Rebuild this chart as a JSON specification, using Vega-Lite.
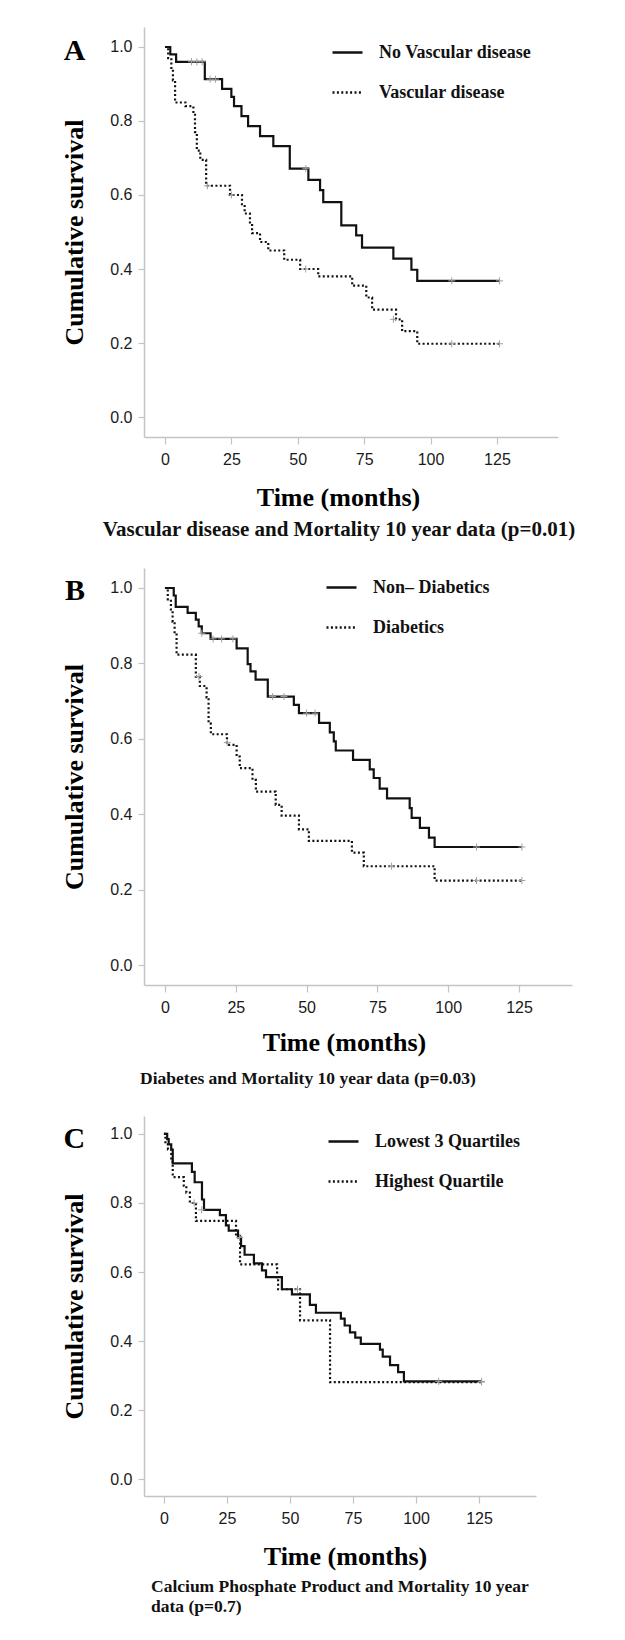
{
  "$schema": "https://vega.github.io/schema/vega-lite/v6.json",
  "background": "white",
  "padding": {"left": 61, "top": 27, "right": 10, "bottom": 10},
  "spacing": 28,
  "config": {
    "view": {"stroke": null},
    "axis": {
      "grid": false,
      "domainColor": "#c4c4c4",
      "domainWidth": 1.5,
      "tickColor": "#c4c4c4",
      "tickWidth": 1.2,
      "labelFont": "Liberation Sans",
      "labelFontSize": 16,
      "labelColor": "#1a1a1a",
      "titleFont": "Liberation Serif",
      "titleFontWeight": "bold",
      "titleFontSize": 26,
      "titleColor": "#000000"
    },
    "legend": {
      "title": null,
      "orient": "none",
      "symbolType": "stroke",
      "symbolSize": 900,
      "symbolStrokeWidth": 2.5,
      "labelFont": "Liberation Serif",
      "labelFontWeight": "bold",
      "labelFontSize": 18,
      "labelColor": "#111111",
      "labelOffset": 15,
      "rowPadding": 14
    },
    "title": {
      "font": "Liberation Serif",
      "fontWeight": "bold",
      "color": "#111111"
    }
  },
  "resolve": {"scale": {"strokeDash": "independent"}, "legend": {"strokeDash": "independent"}},
  "datasets": {
    "curves": [
      {"p": "A", "g": "No Vascular disease", "t": 0, "s": 1.0},
      {"p": "A", "g": "No Vascular disease", "t": 2, "s": 0.98},
      {"p": "A", "g": "No Vascular disease", "t": 4.2, "s": 0.96},
      {"p": "A", "g": "No Vascular disease", "t": 15, "s": 0.913},
      {"p": "A", "g": "No Vascular disease", "t": 21.5, "s": 0.887},
      {"p": "A", "g": "No Vascular disease", "t": 25, "s": 0.865},
      {"p": "A", "g": "No Vascular disease", "t": 26, "s": 0.84},
      {"p": "A", "g": "No Vascular disease", "t": 28.8, "s": 0.813},
      {"p": "A", "g": "No Vascular disease", "t": 31.3, "s": 0.786},
      {"p": "A", "g": "No Vascular disease", "t": 35.8, "s": 0.759},
      {"p": "A", "g": "No Vascular disease", "t": 40.8, "s": 0.732},
      {"p": "A", "g": "No Vascular disease", "t": 47, "s": 0.671},
      {"p": "A", "g": "No Vascular disease", "t": 54, "s": 0.641},
      {"p": "A", "g": "No Vascular disease", "t": 58.4, "s": 0.613},
      {"p": "A", "g": "No Vascular disease", "t": 59.6, "s": 0.581},
      {"p": "A", "g": "No Vascular disease", "t": 66.4, "s": 0.518},
      {"p": "A", "g": "No Vascular disease", "t": 72, "s": 0.491},
      {"p": "A", "g": "No Vascular disease", "t": 74.2, "s": 0.458},
      {"p": "A", "g": "No Vascular disease", "t": 86, "s": 0.428},
      {"p": "A", "g": "No Vascular disease", "t": 92.8, "s": 0.398},
      {"p": "A", "g": "No Vascular disease", "t": 95, "s": 0.368},
      {"p": "A", "g": "No Vascular disease", "t": 126, "s": 0.368},
      {"p": "A", "g": "Vascular disease", "t": 0, "s": 1.0},
      {"p": "A", "g": "Vascular disease", "t": 1.2, "s": 0.97},
      {"p": "A", "g": "Vascular disease", "t": 2.4, "s": 0.94},
      {"p": "A", "g": "Vascular disease", "t": 3.0, "s": 0.91},
      {"p": "A", "g": "Vascular disease", "t": 3.8, "s": 0.85},
      {"p": "A", "g": "Vascular disease", "t": 7.7, "s": 0.84},
      {"p": "A", "g": "Vascular disease", "t": 10.7, "s": 0.82},
      {"p": "A", "g": "Vascular disease", "t": 11.3, "s": 0.77},
      {"p": "A", "g": "Vascular disease", "t": 12.0, "s": 0.72},
      {"p": "A", "g": "Vascular disease", "t": 13.3, "s": 0.695},
      {"p": "A", "g": "Vascular disease", "t": 15.5, "s": 0.625},
      {"p": "A", "g": "Vascular disease", "t": 24.5, "s": 0.6},
      {"p": "A", "g": "Vascular disease", "t": 29, "s": 0.575},
      {"p": "A", "g": "Vascular disease", "t": 30, "s": 0.55},
      {"p": "A", "g": "Vascular disease", "t": 32, "s": 0.522},
      {"p": "A", "g": "Vascular disease", "t": 32.8, "s": 0.497},
      {"p": "A", "g": "Vascular disease", "t": 35.8, "s": 0.473},
      {"p": "A", "g": "Vascular disease", "t": 38.9, "s": 0.45},
      {"p": "A", "g": "Vascular disease", "t": 44.9, "s": 0.425},
      {"p": "A", "g": "Vascular disease", "t": 50.9, "s": 0.4},
      {"p": "A", "g": "Vascular disease", "t": 57.7, "s": 0.38},
      {"p": "A", "g": "Vascular disease", "t": 70.5, "s": 0.355},
      {"p": "A", "g": "Vascular disease", "t": 75.8, "s": 0.323},
      {"p": "A", "g": "Vascular disease", "t": 78, "s": 0.29},
      {"p": "A", "g": "Vascular disease", "t": 87, "s": 0.264},
      {"p": "A", "g": "Vascular disease", "t": 89.3, "s": 0.232},
      {"p": "A", "g": "Vascular disease", "t": 95, "s": 0.198},
      {"p": "A", "g": "Vascular disease", "t": 126, "s": 0.198},

      {"p": "B", "g": "Non– Diabetics", "t": 0, "s": 1.0},
      {"p": "B", "g": "Non– Diabetics", "t": 3.1, "s": 0.98},
      {"p": "B", "g": "Non– Diabetics", "t": 3.8, "s": 0.95},
      {"p": "B", "g": "Non– Diabetics", "t": 8, "s": 0.934},
      {"p": "B", "g": "Non– Diabetics", "t": 10.9, "s": 0.916},
      {"p": "B", "g": "Non– Diabetics", "t": 11.9, "s": 0.898},
      {"p": "B", "g": "Non– Diabetics", "t": 13, "s": 0.88},
      {"p": "B", "g": "Non– Diabetics", "t": 16.1, "s": 0.865},
      {"p": "B", "g": "Non– Diabetics", "t": 25.3, "s": 0.84},
      {"p": "B", "g": "Non– Diabetics", "t": 29.2, "s": 0.798},
      {"p": "B", "g": "Non– Diabetics", "t": 30.2, "s": 0.779},
      {"p": "B", "g": "Non– Diabetics", "t": 32, "s": 0.757},
      {"p": "B", "g": "Non– Diabetics", "t": 36.3, "s": 0.712},
      {"p": "B", "g": "Non– Diabetics", "t": 45.5, "s": 0.69},
      {"p": "B", "g": "Non– Diabetics", "t": 47.3, "s": 0.668},
      {"p": "B", "g": "Non– Diabetics", "t": 54.4, "s": 0.642},
      {"p": "B", "g": "Non– Diabetics", "t": 58.2, "s": 0.617},
      {"p": "B", "g": "Non– Diabetics", "t": 59.6, "s": 0.593},
      {"p": "B", "g": "Non– Diabetics", "t": 60.3, "s": 0.569},
      {"p": "B", "g": "Non– Diabetics", "t": 66.4, "s": 0.544},
      {"p": "B", "g": "Non– Diabetics", "t": 72.3, "s": 0.519},
      {"p": "B", "g": "Non– Diabetics", "t": 73.7, "s": 0.496},
      {"p": "B", "g": "Non– Diabetics", "t": 75.8, "s": 0.468},
      {"p": "B", "g": "Non– Diabetics", "t": 78.4, "s": 0.442},
      {"p": "B", "g": "Non– Diabetics", "t": 86.4, "s": 0.416},
      {"p": "B", "g": "Non– Diabetics", "t": 87.1, "s": 0.39},
      {"p": "B", "g": "Non– Diabetics", "t": 90, "s": 0.364},
      {"p": "B", "g": "Non– Diabetics", "t": 93.2, "s": 0.338},
      {"p": "B", "g": "Non– Diabetics", "t": 95.2, "s": 0.313},
      {"p": "B", "g": "Non– Diabetics", "t": 126, "s": 0.313},
      {"p": "B", "g": "Diabetics", "t": 0, "s": 1.0},
      {"p": "B", "g": "Diabetics", "t": 1.0, "s": 0.97},
      {"p": "B", "g": "Diabetics", "t": 2.1, "s": 0.94},
      {"p": "B", "g": "Diabetics", "t": 2.7, "s": 0.91},
      {"p": "B", "g": "Diabetics", "t": 3.4, "s": 0.88},
      {"p": "B", "g": "Diabetics", "t": 4.1, "s": 0.823},
      {"p": "B", "g": "Diabetics", "t": 10.9, "s": 0.765},
      {"p": "B", "g": "Diabetics", "t": 12.3, "s": 0.74},
      {"p": "B", "g": "Diabetics", "t": 14.7, "s": 0.71},
      {"p": "B", "g": "Diabetics", "t": 15.4, "s": 0.64},
      {"p": "B", "g": "Diabetics", "t": 16.2, "s": 0.612},
      {"p": "B", "g": "Diabetics", "t": 21.9, "s": 0.584},
      {"p": "B", "g": "Diabetics", "t": 25.3, "s": 0.553},
      {"p": "B", "g": "Diabetics", "t": 26.4, "s": 0.522},
      {"p": "B", "g": "Diabetics", "t": 30.9, "s": 0.491},
      {"p": "B", "g": "Diabetics", "t": 32.1, "s": 0.46},
      {"p": "B", "g": "Diabetics", "t": 39.1, "s": 0.425},
      {"p": "B", "g": "Diabetics", "t": 41.2, "s": 0.396},
      {"p": "B", "g": "Diabetics", "t": 47.3, "s": 0.36},
      {"p": "B", "g": "Diabetics", "t": 50.8, "s": 0.329},
      {"p": "B", "g": "Diabetics", "t": 66, "s": 0.298},
      {"p": "B", "g": "Diabetics", "t": 70.2, "s": 0.262},
      {"p": "B", "g": "Diabetics", "t": 95.2, "s": 0.224},
      {"p": "B", "g": "Diabetics", "t": 126, "s": 0.224},

      {"p": "C", "g": "Lowest 3 Quartiles", "t": 0, "s": 1.0},
      {"p": "C", "g": "Lowest 3 Quartiles", "t": 1.3, "s": 0.985},
      {"p": "C", "g": "Lowest 3 Quartiles", "t": 1.9, "s": 0.97},
      {"p": "C", "g": "Lowest 3 Quartiles", "t": 2.9, "s": 0.955},
      {"p": "C", "g": "Lowest 3 Quartiles", "t": 3.5, "s": 0.915},
      {"p": "C", "g": "Lowest 3 Quartiles", "t": 11.1, "s": 0.89},
      {"p": "C", "g": "Lowest 3 Quartiles", "t": 12.2, "s": 0.86},
      {"p": "C", "g": "Lowest 3 Quartiles", "t": 15.1, "s": 0.81},
      {"p": "C", "g": "Lowest 3 Quartiles", "t": 15.9, "s": 0.78},
      {"p": "C", "g": "Lowest 3 Quartiles", "t": 22.2, "s": 0.765},
      {"p": "C", "g": "Lowest 3 Quartiles", "t": 24.6, "s": 0.735},
      {"p": "C", "g": "Lowest 3 Quartiles", "t": 25.7, "s": 0.72},
      {"p": "C", "g": "Lowest 3 Quartiles", "t": 29.4, "s": 0.7},
      {"p": "C", "g": "Lowest 3 Quartiles", "t": 30.6, "s": 0.675},
      {"p": "C", "g": "Lowest 3 Quartiles", "t": 32, "s": 0.65},
      {"p": "C", "g": "Lowest 3 Quartiles", "t": 35.7, "s": 0.625},
      {"p": "C", "g": "Lowest 3 Quartiles", "t": 38.9, "s": 0.605},
      {"p": "C", "g": "Lowest 3 Quartiles", "t": 40.5, "s": 0.585},
      {"p": "C", "g": "Lowest 3 Quartiles", "t": 46.8, "s": 0.55},
      {"p": "C", "g": "Lowest 3 Quartiles", "t": 50.8, "s": 0.535},
      {"p": "C", "g": "Lowest 3 Quartiles", "t": 57.9, "s": 0.505},
      {"p": "C", "g": "Lowest 3 Quartiles", "t": 60.3, "s": 0.482},
      {"p": "C", "g": "Lowest 3 Quartiles", "t": 70.2, "s": 0.465},
      {"p": "C", "g": "Lowest 3 Quartiles", "t": 71.7, "s": 0.445},
      {"p": "C", "g": "Lowest 3 Quartiles", "t": 73.8, "s": 0.425},
      {"p": "C", "g": "Lowest 3 Quartiles", "t": 75.9, "s": 0.41},
      {"p": "C", "g": "Lowest 3 Quartiles", "t": 78.1, "s": 0.392},
      {"p": "C", "g": "Lowest 3 Quartiles", "t": 85.7, "s": 0.375},
      {"p": "C", "g": "Lowest 3 Quartiles", "t": 86.8, "s": 0.355},
      {"p": "C", "g": "Lowest 3 Quartiles", "t": 89.7, "s": 0.33},
      {"p": "C", "g": "Lowest 3 Quartiles", "t": 92.9, "s": 0.31},
      {"p": "C", "g": "Lowest 3 Quartiles", "t": 95.2, "s": 0.283},
      {"p": "C", "g": "Lowest 3 Quartiles", "t": 126, "s": 0.283},
      {"p": "C", "g": "Highest Quartile", "t": 0, "s": 1.0},
      {"p": "C", "g": "Highest Quartile", "t": 0.6, "s": 0.97},
      {"p": "C", "g": "Highest Quartile", "t": 1.6, "s": 0.955},
      {"p": "C", "g": "Highest Quartile", "t": 2.9, "s": 0.92},
      {"p": "C", "g": "Highest Quartile", "t": 3.5, "s": 0.875},
      {"p": "C", "g": "Highest Quartile", "t": 7.9, "s": 0.85},
      {"p": "C", "g": "Highest Quartile", "t": 8.9, "s": 0.83},
      {"p": "C", "g": "Highest Quartile", "t": 10.3, "s": 0.8},
      {"p": "C", "g": "Highest Quartile", "t": 12.7, "s": 0.748},
      {"p": "C", "g": "Highest Quartile", "t": 28.6, "s": 0.705},
      {"p": "C", "g": "Highest Quartile", "t": 30.2, "s": 0.622},
      {"p": "C", "g": "Highest Quartile", "t": 44.9, "s": 0.585},
      {"p": "C", "g": "Highest Quartile", "t": 45.3, "s": 0.55},
      {"p": "C", "g": "Highest Quartile", "t": 54, "s": 0.46},
      {"p": "C", "g": "Highest Quartile", "t": 65.9, "s": 0.281},
      {"p": "C", "g": "Highest Quartile", "t": 126, "s": 0.281}
    ],
    "censor": [
      {"p": "A", "t": 10, "s": 0.96}, {"p": "A", "t": 12, "s": 0.96}, {"p": "A", "t": 14, "s": 0.96},
      {"p": "A", "t": 17, "s": 0.913}, {"p": "A", "t": 19, "s": 0.913}, {"p": "A", "t": 53, "s": 0.671},
      {"p": "A", "t": 108, "s": 0.368}, {"p": "A", "t": 126, "s": 0.368},
      {"p": "A", "t": 16, "s": 0.625}, {"p": "A", "t": 25, "s": 0.6}, {"p": "A", "t": 53, "s": 0.4},
      {"p": "A", "t": 86, "s": 0.264}, {"p": "A", "t": 108, "s": 0.198}, {"p": "A", "t": 126, "s": 0.198},
      {"p": "B", "t": 13, "s": 0.88}, {"p": "B", "t": 17, "s": 0.865}, {"p": "B", "t": 20, "s": 0.865},
      {"p": "B", "t": 24, "s": 0.865}, {"p": "B", "t": 38, "s": 0.712}, {"p": "B", "t": 42, "s": 0.712},
      {"p": "B", "t": 50, "s": 0.668}, {"p": "B", "t": 53, "s": 0.668}, {"p": "B", "t": 110, "s": 0.313},
      {"p": "B", "t": 126, "s": 0.313}, {"p": "B", "t": 12, "s": 0.765}, {"p": "B", "t": 22, "s": 0.59},
      {"p": "B", "t": 80, "s": 0.262}, {"p": "B", "t": 110, "s": 0.224}, {"p": "B", "t": 126, "s": 0.224},
      {"p": "C", "t": 15, "s": 0.78}, {"p": "C", "t": 30, "s": 0.7}, {"p": "C", "t": 109, "s": 0.283},
      {"p": "C", "t": 126, "s": 0.283}, {"p": "C", "t": 12, "s": 0.8}, {"p": "C", "t": 53, "s": 0.55},
      {"p": "C", "t": 126, "s": 0.281}
    ]
  },
  "vconcat": [
    {
      "width": 414,
      "height": 410,
      "title": {"text": "Vascular disease and Mortality 10 year data (p=0.01)", "orient": "bottom", "anchor": "middle", "frame": "group", "dx": -12, "offset": 9, "fontSize": 21},
      "layer": [
        {
          "data": {"name": "curves"},
          "transform": [{"filter": "datum.p == 'A'"}],
          "mark": {"type": "line", "interpolate": "step-after", "strokeWidth": 2.2, "color": "#111111"},
          "encoding": {
            "x": {"field": "t", "type": "quantitative", "scale": {"domain": [-7.9, 148], "nice": false, "zero": false},
              "axis": {"values": [0, 25, 50, 75, 100, 125], "title": "Time (months)", "tickSize": 7, "labelPadding": 7, "titlePadding": 17, "titleX": 194}},
            "y": {"field": "s", "type": "quantitative", "scale": {"domain": [-0.054, 1.054], "nice": false, "zero": false},
              "axis": {"values": [0, 0.2, 0.4, 0.6, 0.8, 1.0], "format": ".1f", "title": "Cumulative survival", "tickSize": 6, "labelPadding": 6, "titlePadding": 22}},
            "strokeDash": {"field": "g", "type": "nominal",
              "scale": {"domain": ["No Vascular disease", "Vascular disease"], "range": [[1, 0], [2, 2.4]]},
              "legend": {"legendX": 187, "legendY": 9, "labelExpr": "datum.label == 'Vascular disease' ? '\u00a0Vascular disease' : datum.label"}}
          }
        },
        {
          "data": {"name": "censor"},
          "transform": [{"filter": "datum.p == 'A'"}],
          "mark": {"type": "point", "shape": "M-1,0H1M0,-1V1", "size": 50, "filled": false, "color": "#a0a0a0", "strokeWidth": 1, "opacity": 1},
          "encoding": {"x": {"field": "t", "type": "quantitative"}, "y": {"field": "s", "type": "quantitative"}}
        },
        {
          "data": {"values": [{"letter": "A"}]},
          "mark": {"type": "text", "font": "Liberation Serif", "fontWeight": "bold", "fontSize": 30, "align": "center", "baseline": "middle", "color": "#000000"},
          "encoding": {"x": {"datum": -34}, "y": {"datum": 0.99}, "text": {"field": "letter"}}
        }
      ]
    },
    {
      "width": 428,
      "height": 417,
      "title": {"text": "Diabetes and Mortality 10 year data (p=0.03)", "orient": "bottom", "anchor": "middle", "frame": "group", "dx": -50, "offset": 15, "fontSize": 17.5},
      "layer": [
        {
          "data": {"name": "curves"},
          "transform": [{"filter": "datum.p == 'B'"}],
          "mark": {"type": "line", "interpolate": "step-after", "strokeWidth": 2.2, "color": "#111111"},
          "encoding": {
            "x": {"field": "t", "type": "quantitative", "scale": {"domain": [-7.4, 143.7], "nice": false, "zero": false},
              "axis": {"values": [0, 25, 50, 75, 100, 125], "title": "Time (months)", "tickSize": 7, "labelPadding": 7, "titlePadding": 14, "titleX": 200}},
            "y": {"field": "s", "type": "quantitative", "scale": {"domain": [-0.053, 1.053], "nice": false, "zero": false},
              "axis": {"values": [0, 0.2, 0.4, 0.6, 0.8, 1.0], "format": ".1f", "title": "Cumulative survival", "tickSize": 6, "labelPadding": 6, "titlePadding": 22}},
            "strokeDash": {"field": "g", "type": "nominal",
              "scale": {"domain": ["Non– Diabetics", "Diabetics"], "range": [[1, 0], [2, 2.4]]},
              "legend": {"legendX": 181, "legendY": 3, "labelExpr": "datum.label == 'Diabetics' ? '\u00a0Diabetics' : datum.label"}}
          }
        },
        {
          "data": {"name": "censor"},
          "transform": [{"filter": "datum.p == 'B'"}],
          "mark": {"type": "point", "shape": "M-1,0H1M0,-1V1", "size": 50, "filled": false, "color": "#a0a0a0", "strokeWidth": 1, "opacity": 1},
          "encoding": {"x": {"field": "t", "type": "quantitative"}, "y": {"field": "s", "type": "quantitative"}}
        },
        {
          "data": {"values": [{"letter": "B"}]},
          "mark": {"type": "text", "font": "Liberation Serif", "fontWeight": "bold", "fontSize": 30, "align": "center", "baseline": "middle", "color": "#000000"},
          "encoding": {"x": {"datum": -31.8}, "y": {"datum": 0.992}, "text": {"field": "letter"}}
        }
      ]
    },
    {
      "width": 392,
      "height": 380,
      "title": {"text": ["Calcium Phosphate Product and Mortality 10 year", "\u00a0data (p=0.7)"], "orient": "bottom", "anchor": "start", "align": "left", "frame": "group", "dx": 7, "offset": 9, "fontSize": 17.5, "lineHeight": 20},
      "layer": [
        {
          "data": {"name": "curves"},
          "transform": [{"filter": "datum.p == 'C'"}],
          "mark": {"type": "line", "interpolate": "step-after", "strokeWidth": 2.2, "color": "#111111"},
          "encoding": {
            "x": {"field": "t", "type": "quantitative", "scale": {"domain": [-7.9, 147.6], "nice": false, "zero": false},
              "axis": {"values": [0, 25, 50, 75, 100, 125], "title": "Time (months)", "tickSize": 7, "labelPadding": 7, "titlePadding": 17, "titleX": 201}},
            "y": {"field": "s", "type": "quantitative", "scale": {"domain": [-0.049, 1.052], "nice": false, "zero": false},
              "axis": {"values": [0, 0.2, 0.4, 0.6, 0.8, 1.0], "format": ".1f", "title": "Cumulative survival", "tickSize": 6, "labelPadding": 6, "titlePadding": 22}},
            "strokeDash": {"field": "g", "type": "nominal",
              "scale": {"domain": ["Lowest 3 Quartiles", "Highest Quartile"], "range": [[1, 0], [2, 2.4]]},
              "legend": {"legendX": 183, "legendY": 9, "labelExpr": "datum.label == 'Highest Quartile' ? '\u00a0Highest Quartile' : datum.label"}}
          }
        },
        {
          "data": {"name": "censor"},
          "transform": [{"filter": "datum.p == 'C'"}],
          "mark": {"type": "point", "shape": "M-1,0H1M0,-1V1", "size": 50, "filled": false, "color": "#a0a0a0", "strokeWidth": 1, "opacity": 1},
          "encoding": {"x": {"field": "t", "type": "quantitative"}, "y": {"field": "s", "type": "quantitative"}}
        },
        {
          "data": {"values": [{"letter": "C"}]},
          "mark": {"type": "text", "font": "Liberation Serif", "fontWeight": "bold", "fontSize": 30, "align": "center", "baseline": "middle", "color": "#000000"},
          "encoding": {"x": {"datum": -35.5}, "y": {"datum": 0.986}, "text": {"field": "letter"}}
        }
      ]
    }
  ]
}
